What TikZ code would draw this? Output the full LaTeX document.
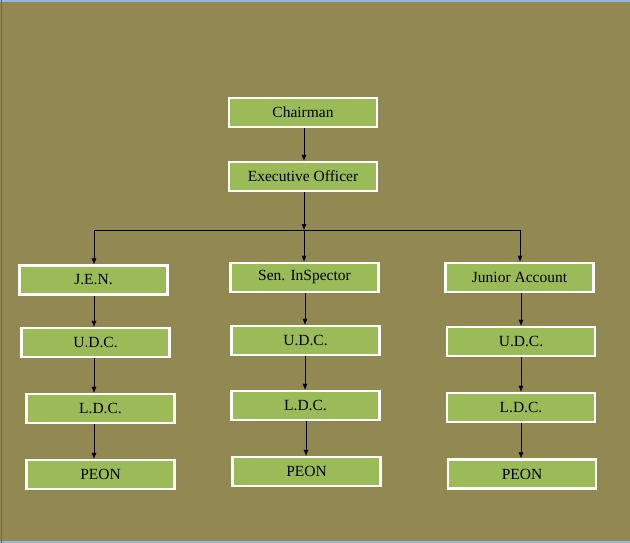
\documentclass[tikz,border=0pt]{standalone}
\usepackage{fontspec}
\setmainfont{Liberation Serif}
\usepackage{tikz}
\usepackage{xcolor}
\usetikzlibrary{arrows.meta,shadows}
\definecolor{orgolive}{RGB}{146,137,82}
\definecolor{orggreen}{RGB}{155,187,89}
\definecolor{orgframe}{RGB}{150,180,220}

\begin{document}
\begin{tikzpicture}[x=1pt, y=-1pt, >={Latex[length=6pt,width=5pt]},
  every node/.style={font=\fontsize{15.5}{18}\selectfont},
  orgbox/.style={draw=white, line width=2.5pt, fill=orggreen,
    minimum width=148pt, minimum height=29pt, inner sep=0pt,
    drop shadow={opacity=0.35, shadow xshift=1.5pt, shadow yshift=-1.5pt}}]
\useasboundingbox (0,0) rectangle (630,543);
\fill[orgolive] (0,0) rectangle (630,543);
\draw[orgframe, line width=2pt] (0,1) -- (630,1);
\draw[orgframe, line width=2pt] (0,542) -- (630,542);
\draw[black!60, line width=0.8pt] (1,0) -- (1,543);

% top of the chart
\node[orgbox] (chair) at (303,112.5) {Chairman};
\node[orgbox] (exec) at (303,176.5) {Executive Officer};

% three branches
\node[orgbox] (jen) at (93.5,280) {J.E.N.};
\node[orgbox] (udcL) at (95.5,342.5) {U.D.C.};
\node[orgbox] (ldcL) at (100.5,408.5) {L.D.C.};
\node[orgbox] (peonL) at (100.5,474.5) {PEON};

\node[orgbox] (insp) at (304.5,277.5) {Sen. InSpector};
\node[orgbox] (udcM) at (305.5,340.5) {U.D.C.};
\node[orgbox] (ldcM) at (305.5,405.5) {L.D.C.};
\node[orgbox] (peonM) at (306.5,471.5) {PEON};

\node[orgbox] (jacc) at (519.5,277.5) {Junior Account};
\node[orgbox] (udcR) at (521,341.5) {U.D.C.};
\node[orgbox] (ldcR) at (521,407.5) {L.D.C.};
\node[orgbox] (peonR) at (522,474) {PEON};

\coordinate (split) at (304,230);
\coordinate (brL) at (94,230);
\coordinate (brR) at (520,230);

\draw[->] (chair.south -| 304,0) -- (exec.north -| 304,0);
\draw[->] (exec.south -| split) -- (split);
\draw (brL) -- (brR);
\draw[->] (brL) -- (jen.north -| brL);
\draw[->] (split) -- (insp.north -| split);
\draw[->] (brR) -- (jacc.north -| brR);

\draw[->] (jen.south -| brL) -- (udcL.north -| brL);
\draw[->] (udcL.south -| brL) -- (ldcL.north -| brL);
\draw[->] (ldcL.south -| brL) -- (peonL.north -| brL);

\draw[->] (insp.south -| 305,0) -- (udcM.north -| 305,0);
\draw[->] (udcM.south -| 305,0) -- (ldcM.north -| 305,0);
\draw[->] (ldcM.south -| 306,0) -- (peonM.north -| 306,0);

\draw[->] (jacc.south -| 521,0) -- (udcR.north -| 521,0);
\draw[->] (udcR.south -| 521,0) -- (ldcR.north -| 521,0);
\draw[->] (ldcR.south -| 521,0) -- (peonR.north -| 521,0);
\end{tikzpicture}
\end{document}
